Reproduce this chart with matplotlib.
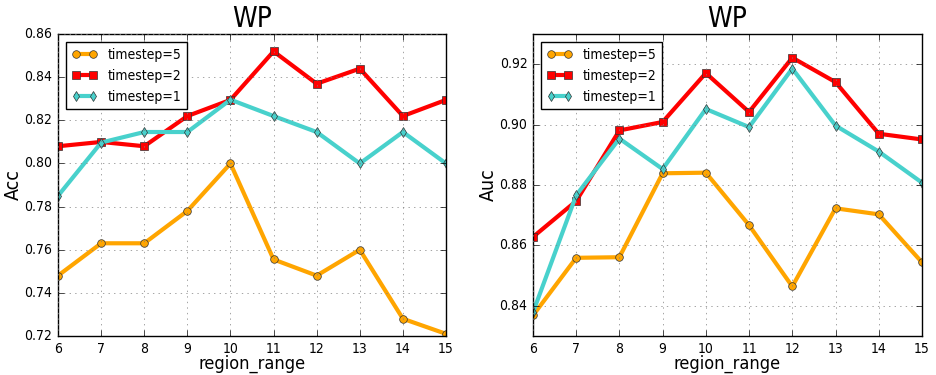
import matplotlib
matplotlib.use("Agg")
import matplotlib.pyplot as plt

plt.style.use("classic")
plt.rcParams["font.family"] = ["DejaVu Sans"]
plt.rcParams["font.stretch"] = "condensed"

region_range = [6, 7, 8, 9, 10, 11, 12, 13, 14, 15]
series_labels = ["timestep=5", "timestep=2", "timestep=1"]

acc_t5 = [0.748, 0.763, 0.763, 0.778, 0.800, 0.7555, 0.748, 0.760, 0.728, 0.721]
acc_t2 = [0.808, 0.810, 0.808, 0.822, 0.8295, 0.852, 0.837, 0.844, 0.822, 0.8295]
acc_t1 = [0.785, 0.8097, 0.8146, 0.8146, 0.8296, 0.822, 0.8146, 0.800, 0.8146, 0.800]

auc_t5 = [0.8368, 0.8559, 0.8561, 0.8839, 0.8841, 0.8667, 0.8464, 0.8723, 0.8703, 0.8544]
auc_t2 = [0.8628, 0.8747, 0.8981, 0.9009, 0.9171, 0.9042, 0.9222, 0.9141, 0.897, 0.8951]
auc_t1 = [0.8378, 0.8766, 0.8954, 0.8853, 0.9052, 0.8992, 0.9186, 0.8997, 0.8911, 0.8808]

colors = ["orange", "red", "mediumturquoise"]
markers = ["o", "s", "d"]

fig = plt.figure(figsize=(9.36, 3.75), dpi=100, facecolor="white")
ax1 = fig.add_axes([0.062, 0.104, 0.4145, 0.805])
ax2 = fig.add_axes([0.5694, 0.104, 0.4156, 0.805])


def draw(ax, data, ylabel, ylim, yticks):
    for vals, lab, c, m in zip(data, series_labels, colors, markers):
        ax.plot(region_range, vals, color=c, marker=m, markersize=5.5,
                linewidth=3, markeredgecolor="#333333", markeredgewidth=0.5,
                label=lab)
    ax.set_xlim(6, 15)
    ax.set_ylim(*ylim)
    ax.set_xticks(region_range)
    ax.set_yticks(yticks)
    ax.grid(True, linestyle=":", color="gray")
    ax.set_title("WP", fontsize=20)
    ax.set_xlabel("region_range", fontsize=13)
    ax.xaxis.set_label_coords(0.5, -0.063)
    ax.set_ylabel(ylabel, fontsize=14, labelpad=1)
    ax.tick_params(labelsize=10)
    leg = ax.legend(loc="upper left", fontsize=10, numpoints=2,
                    handlelength=1.8, borderaxespad=0.6)
    leg.get_frame().set_linewidth(1)


draw(ax1, [acc_t5, acc_t2, acc_t1], "Acc", (0.72, 0.86),
     [0.72, 0.74, 0.76, 0.78, 0.80, 0.82, 0.84, 0.86])
draw(ax2, [auc_t5, auc_t2, auc_t1], "Auc", (0.83, 0.93),
     [0.84, 0.86, 0.88, 0.90, 0.92])

fig.savefig("out.png", dpi=100, facecolor="white")
